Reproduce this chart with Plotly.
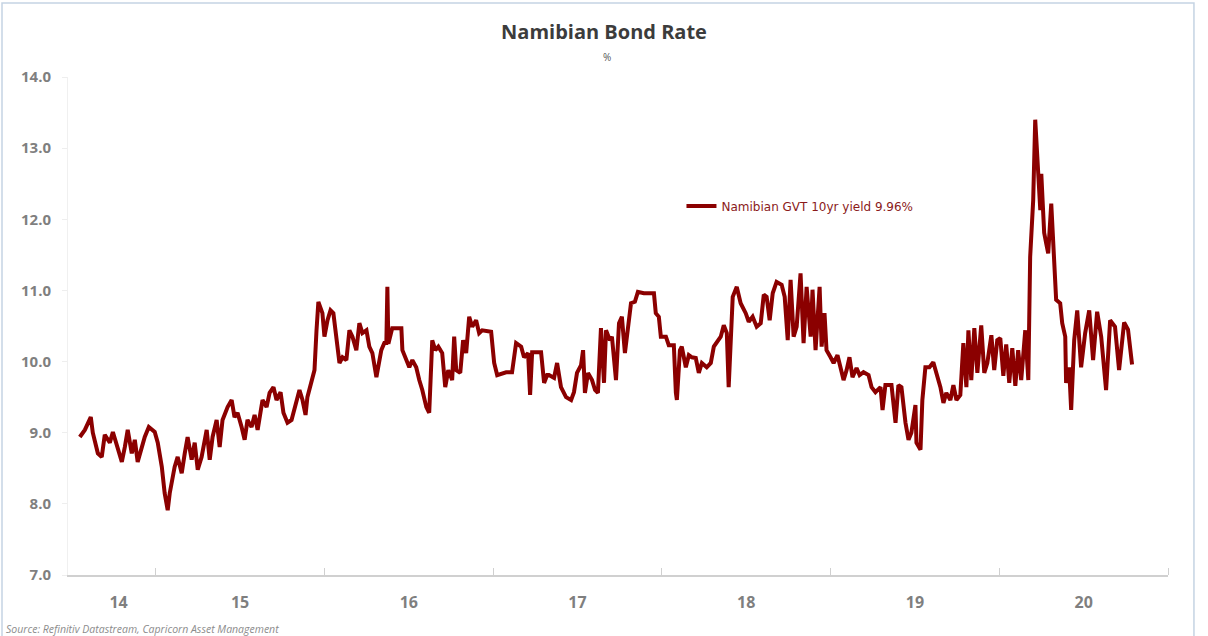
import plotly.graph_objects as go

# Time in decimal years, Namibian GVT 10yr yield (%)
t = [2014.550, 2014.580, 2014.615, 2014.627, 2014.657, 2014.680, 2014.698, 2014.728, 2014.746, 2014.775,
     2014.799, 2014.817, 2014.834, 2014.858, 2014.876, 2014.893, 2014.917, 2014.935, 2014.959, 2014.994,
     2015.012, 2015.036, 2015.053, 2015.071, 2015.083, 2015.112, 2015.130, 2015.154, 2015.172, 2015.189,
     2015.213, 2015.231, 2015.249, 2015.272, 2015.302, 2015.320, 2015.337, 2015.361, 2015.379, 2015.396,
     2015.426, 2015.450, 2015.467, 2015.485, 2015.509, 2015.527, 2015.544, 2015.568, 2015.586, 2015.604,
     2015.633, 2015.657, 2015.675, 2015.698, 2015.716, 2015.740, 2015.757, 2015.781, 2015.805, 2015.834,
     2015.852, 2015.870, 2015.888, 2015.899, 2015.923, 2015.941, 2015.953, 2015.964, 2015.988, 2016.000,
     2016.018, 2016.036, 2016.053, 2016.071, 2016.089, 2016.107, 2016.130, 2016.148, 2016.166, 2016.189,
     2016.207, 2016.225, 2016.249, 2016.266, 2016.284, 2016.308, 2016.325, 2016.337, 2016.355, 2016.367,
     2016.373, 2016.379, 2016.402, 2016.456, 2016.462, 2016.485, 2016.503, 2016.521, 2016.544, 2016.562,
     2016.580, 2016.604, 2016.621, 2016.639, 2016.657, 2016.675, 2016.698, 2016.716, 2016.734, 2016.757,
     2016.769, 2016.781, 2016.805, 2016.822, 2016.840, 2016.858, 2016.876, 2016.899, 2016.917, 2016.935,
     2016.988, 2017.006, 2017.024, 2017.077, 2017.112, 2017.136, 2017.166, 2017.183, 2017.207, 2017.219,
     2017.231, 2017.284, 2017.302, 2017.320, 2017.331, 2017.361, 2017.379, 2017.402, 2017.432, 2017.462,
     2017.479, 2017.497, 2017.521, 2017.533, 2017.544, 2017.562, 2017.586, 2017.604, 2017.621, 2017.639,
     2017.657, 2017.669, 2017.692, 2017.704, 2017.728, 2017.746, 2017.763, 2017.781, 2017.799, 2017.817,
     2017.840, 2017.858, 2017.893, 2017.923, 2017.953, 2017.964, 2017.982, 2017.994, 2018.024, 2018.041,
     2018.071, 2018.083, 2018.089, 2018.107, 2018.118, 2018.142, 2018.160, 2018.178, 2018.201, 2018.219,
     2018.237, 2018.266, 2018.290, 2018.308, 2018.325, 2018.349, 2018.367, 2018.385, 2018.396, 2018.408,
     2018.420, 2018.444, 2018.467, 2018.497, 2018.515, 2018.538, 2018.562, 2018.586, 2018.604, 2018.621,
     2018.639, 2018.657, 2018.680, 2018.710, 2018.728, 2018.746, 2018.763, 2018.781, 2018.799, 2018.822,
     2018.840, 2018.858, 2018.882, 2018.893, 2018.911, 2018.935, 2018.947, 2018.964, 2018.976, 2019.000,
     2019.018, 2019.041, 2019.059, 2019.077, 2019.095, 2019.112, 2019.130, 2019.154, 2019.172, 2019.195,
     2019.225, 2019.243, 2019.266, 2019.296, 2019.308, 2019.325, 2019.361, 2019.385, 2019.402, 2019.420,
     2019.444, 2019.462, 2019.479, 2019.503, 2019.509, 2019.533, 2019.544, 2019.562, 2019.586, 2019.609,
     2019.627, 2019.651, 2019.669, 2019.686, 2019.710, 2019.728, 2019.746, 2019.769, 2019.787, 2019.805,
     2019.817, 2019.834, 2019.852, 2019.870, 2019.893, 2019.911, 2019.929, 2019.953, 2019.970, 2019.988,
     2020.006, 2020.024, 2020.041, 2020.059, 2020.077, 2020.095, 2020.112, 2020.130, 2020.154, 2020.172,
     2020.183, 2020.201, 2020.213, 2020.225, 2020.243, 2020.249, 2020.266, 2020.278, 2020.290, 2020.308,
     2020.320, 2020.337, 2020.361, 2020.373, 2020.391, 2020.396, 2020.414, 2020.426, 2020.444, 2020.462,
     2020.485, 2020.509, 2020.533, 2020.556, 2020.580, 2020.604, 2020.633, 2020.657, 2020.686, 2020.710,
     2020.740, 2020.763, 2020.787]

yld = [8.94, 9.04, 9.22, 9.00, 8.71, 8.66, 8.97, 8.86, 9.01, 8.76,
       8.59, 8.80, 9.04, 8.71, 8.90, 8.59, 8.78, 8.94, 9.08, 9.01,
       8.86, 8.52, 8.15, 7.91, 8.15, 8.52, 8.66, 8.43, 8.71, 8.94,
       8.62, 8.86, 8.48, 8.66, 9.04, 8.62, 8.94, 9.18, 8.80, 9.18,
       9.36, 9.46, 9.22, 9.28, 9.08, 8.90, 9.18, 9.08, 9.25, 9.04,
       9.46, 9.36, 9.56, 9.64, 9.46, 9.57, 9.28, 9.14, 9.18, 9.46,
       9.60, 9.46, 9.25, 9.50, 9.74, 9.88, 10.44, 10.84, 10.68, 10.35,
       10.58, 10.72, 10.68, 10.35, 9.98, 10.06, 10.02, 10.44, 10.35, 10.16,
       10.54, 10.40, 10.44, 10.21, 10.12, 9.78, 9.98, 10.16, 10.26, 10.26,
       11.05, 10.25, 10.47, 10.47, 10.16, 10.02, 9.92, 10.02, 9.92, 9.74,
       9.60, 9.36, 9.28, 10.30, 10.16, 10.21, 10.12, 9.64, 9.88, 9.74,
       10.35, 9.88, 9.84, 10.30, 10.12, 10.63, 10.49, 10.58, 10.40, 10.44,
       10.42, 9.98, 9.81, 9.85, 9.85, 10.26, 10.21, 10.06, 10.12, 9.53,
       10.13, 10.13, 9.70, 9.81, 9.81, 9.77, 9.98, 9.64, 9.50, 9.46,
       9.57, 9.84, 9.95, 10.16, 9.56, 9.84, 9.74, 9.60, 9.56, 10.47,
       9.70, 10.44, 10.30, 10.35, 9.74, 10.54, 10.63, 10.12, 10.49, 10.82,
       10.84, 10.98, 10.96, 10.96, 10.96, 10.68, 10.63, 10.35, 10.35, 10.23,
       10.23, 9.56, 9.46, 10.16, 10.21, 9.92, 10.09, 10.06, 10.05, 9.84,
       9.98, 9.92, 9.98, 10.21, 10.26, 10.35, 10.51, 10.40, 9.64, 10.26,
       10.91, 11.05, 10.82, 10.68, 10.56, 10.63, 10.49, 10.54, 10.94, 10.91,
       10.58, 10.96, 11.12, 11.08, 10.91, 10.30, 11.15, 10.35, 10.49, 11.24,
       10.26, 11.05, 10.35, 11.01, 10.16, 11.05, 10.21, 10.68, 10.16, 10.06,
       9.98, 10.09, 9.88, 9.74, 9.88, 10.06, 9.78, 9.91, 9.81, 9.85,
       9.81, 9.64, 9.57, 9.64, 9.32, 9.67, 9.67, 9.14, 9.67, 9.64,
       9.14, 8.90, 9.00, 9.39, 8.86, 8.76, 9.46, 9.92, 9.92, 9.99,
       9.84, 9.64, 9.42, 9.56, 9.46, 9.67, 9.46, 9.53, 10.26, 9.64,
       10.44, 9.74, 10.47, 9.84, 10.51, 9.84, 9.98, 10.37, 9.88, 10.30,
       10.33, 9.80, 10.24, 9.70, 10.19, 9.66, 10.16, 9.74, 10.44, 9.74,
       11.47, 12.27, 13.40, 12.88, 12.13, 12.64, 11.81, 11.66, 11.52, 12.22,
       11.57, 10.87, 10.82, 10.54, 10.35, 9.70, 9.92, 9.32, 10.30, 10.72,
       9.92, 10.40, 10.72, 10.02, 10.70, 10.35, 9.60, 10.58, 10.49, 9.88,
       10.55, 10.45, 9.96]

year_labels = ["14", "15", "16", "17", "18", "19", "20"]
label_pos = [2014.78, 2015.5, 2016.5, 2017.5, 2018.5, 2019.5, 2020.5]
year_bounds = [2015, 2016, 2017, 2018, 2019, 2020, 2021]

LINE = "#8B0000"
GREY = "#7f7f7f"

fig = go.Figure()
fig.add_trace(go.Scatter(
    x=t, y=yld, mode="lines", name="Namibian GVT 10yr yield 9.96%",
    line=dict(color=LINE, width=4),
))

fig.update_layout(
    width=1208, height=636,
    margin=dict(l=68, r=40, t=77, b=61),
    paper_bgcolor="white", plot_bgcolor="white",
    title=dict(text="Namibian Bond Rate", x=0.5, xanchor="center", y=0.95, yanchor="middle",
               font=dict(family="Open Sans", size=20, color="#3c3c3c", weight="bold")),
    showlegend=True,
    legend=dict(x=0.5577, y=0.741, xanchor="left", yanchor="middle", bgcolor="rgba(0,0,0,0)",
                font=dict(family="DejaVu Sans", size=12, color="#8B1A1A"), itemwidth=30),
    xaxis=dict(range=[2014.48, 2021.0], tickmode="array", tickvals=label_pos, ticktext=year_labels,
               ticks="", showgrid=False, zeroline=False, showline=True, linecolor="#d0d0d0", linewidth=2,
               tickfont=dict(family="Open Sans", size=16, color=GREY, weight="bold"),
               ticklabelstandoff=12,
               minor=dict(tickmode="array", tickvals=year_bounds, ticks="inside", ticklen=7,
                          tickcolor="#d0d0d0", tickwidth=1, showgrid=False)),
    yaxis=dict(range=[7, 14], dtick=1, tick0=7, tickformat=".1f", showgrid=False, zeroline=False,
               showline=True, linecolor="#f0f0f0", linewidth=1, ticks="outside", ticklen=5,
               tickcolor="#eeeeee",
               tickfont=dict(family="Open Sans", size=15, color=GREY, weight="bold"),
               ticklabelstandoff=8),
    annotations=[
        dict(text="%", xref="paper", yref="paper", x=0.4898, y=1.04, xanchor="center", yanchor="middle",
             showarrow=False, font=dict(family="Open Sans", size=10, color="#555555")),
        dict(text="<i>Source: Refinitiv Datastream, Capricorn Asset Management</i>", xref="paper", yref="paper",
             x=-0.058, y=-0.109, xanchor="left", yanchor="middle", showarrow=False,
             font=dict(family="Open Sans", size=10.5, color="#8c8c8c")),
    ],
    shapes=[
        dict(type="rect", xref="paper", yref="paper", x0=-0.0600, x1=1.0236, y0=-0.2, y1=1.1486,
             line=dict(color="#c5d3e3", width=1.5), fillcolor="rgba(0,0,0,0)", layer="below"),
    ],
)

fig.write_html("out.html")
